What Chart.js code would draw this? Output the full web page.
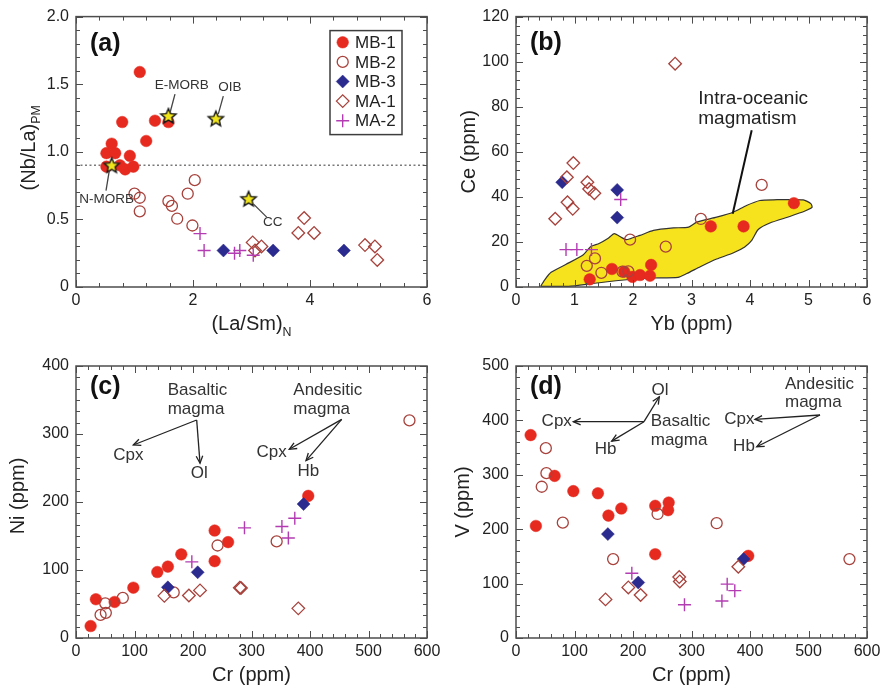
<!DOCTYPE html>
<html>
<head>
<meta charset="utf-8">
<script src="https://cdn.jsdelivr.net/npm/chart.js@4.4.1/dist/chart.umd.min.js"></script>
<style>
  html, body { margin: 0; padding: 0; background: #ffffff; }
  #wrap { position: relative; width: 885px; height: 687px; }
  #wrap canvas { position: absolute; left: 0; top: 0; }
</style>
</head>
<body>
<div id="wrap">
  <canvas id="panelA" width="885" height="687"></canvas>
  <canvas id="panelB" width="885" height="687"></canvas>
  <canvas id="panelC" width="885" height="687"></canvas>
  <canvas id="panelD" width="885" height="687"></canvas>
</div>
<script>
// ---------- sample groups ----------
const groups = ['MB-1', 'MB-2', 'MB-3', 'MA-1', 'MA-2'];

// (a) (La/Sm)N vs (Nb/La)PM
const mb1LaSm = [1.09, 0.79, 1.35, 1.58, 1.20, 0.61, 0.52, 0.67, 0.92, 0.52, 0.75, 0.84, 0.98];
const mb1NbLa = [1.59, 1.22, 1.23, 1.22, 1.08, 1.06, 0.99, 0.99, 0.97, 0.89, 0.90, 0.87, 0.89];
const mb2LaSm = [1.00, 1.09, 1.09, 1.58, 1.64, 1.73, 1.91, 2.03, 1.99];
const mb2NbLa = [0.69, 0.66, 0.56, 0.635, 0.60, 0.505, 0.69, 0.79, 0.455];
const mb3LaSm = [2.52, 3.37, 4.58];
const mb3NbLa = [0.27, 0.27, 0.27];
const ma1LaSm = [3.02, 3.17, 3.06, 3.80, 3.90, 4.07, 4.94, 5.11, 5.15];
const ma1NbLa = [0.33, 0.30, 0.27, 0.40, 0.51, 0.40, 0.31, 0.30, 0.20];
const ma2LaSm = [2.12, 2.19, 2.71, 2.80, 3.03];
const ma2NbLa = [0.395, 0.27, 0.25, 0.27, 0.235];
const refNames = ['N-MORB', 'E-MORB', 'OIB', 'CC'];
const refLaSm = [0.61, 1.58, 2.39, 2.95];
const refNbLa = [0.90, 1.265, 1.245, 0.652];
const nbLaLimit = 0.9;

// (b) Yb vs Ce
const mb1Yb = [1.26, 1.64, 1.85, 1.99, 2.12, 2.29, 2.31, 3.33, 3.89, 4.75];
const mb1Ce = [3.4, 8.0, 6.8, 4.5, 5.3, 5.0, 9.8, 26.9, 26.9, 37.2];
const mb2Yb = [1.21, 1.35, 1.46, 1.82, 1.92, 1.95, 2.56, 3.16, 4.20];
const mb2Ce = [9.4, 12.7, 6.3, 6.8, 6.9, 21.0, 17.9, 30.2, 45.3];
const mb3Yb = [0.79, 1.73, 1.73];
const mb3Ce = [46.5, 43.1, 30.8];
const ma1Yb = [0.98, 0.87, 1.22, 1.25, 1.34, 0.88, 0.97, 0.67, 2.72];
const ma1Ce = [55.0, 48.7, 46.5, 43.5, 41.6, 37.6, 34.7, 30.3, 99.1];
const ma2Yb = [0.855, 1.04, 1.29, 1.79];
const ma2Ce = [16.6, 16.6, 16.6, 38.8];
// outline of the intra-oceanic field (Yb, Ce)
const oceanicYb = [0.42, 0.50, 0.60, 0.85, 1.14, 1.28, 1.42, 1.57, 1.68, 1.81, 1.88, 1.96, 2.05, 2.12, 2.35, 2.69, 2.95,
                   3.09, 3.43, 3.71, 3.94, 4.17, 4.40, 4.91, 5.04, 5.06, 4.94, 4.68, 4.34, 4.14, 4.03, 3.91, 3.71,
                   3.43, 3.15, 2.92, 2.77, 2.30, 1.80, 1.30, 0.90, 0.42];
const oceanicCe = [0.3, 3.5, 6.5, 10.0, 14.1, 18.0, 19.3, 21.5, 23.7, 21.9, 21.0, 21.5, 22.3, 22.9, 25.1, 26.2, 26.6,
                   28.8, 31.0, 33.2, 36.2, 38.4, 38.7, 38.7, 37.0, 35.3, 33.7, 31.3, 28.4, 25.5, 20.7, 17.8, 15.1,
                   12.4, 9.0, 6.0, 4.3, 4.0, 3.0, 1.5, 0.3, 0.3];

// (c) Cr vs Ni
const mb1CrC = [25, 34, 66, 98, 139, 157, 180, 237, 237, 260, 397];
const mb1Ni  = [17.6, 57, 53, 74, 97, 105, 123, 158, 113, 141, 209];
const mb2CrC = [42, 51, 50, 80, 167, 242, 343, 570];
const mb2Ni  = [34, 37, 51, 59, 67, 136, 142, 320];
const mb3CrC = [157, 208, 389];
const mb3Ni  = [74.5, 96.6, 197];
const ma1CrC = [151, 193, 212, 280, 282, 380];
const ma1Ni  = [62, 62.5, 70, 74, 73.5, 43.6];
const ma2CrC = [198, 288, 352, 363, 374];
const ma2Ni  = [112, 162, 164, 147, 176];

// (d) Cr vs V
const mb1CrD = [25, 34, 66, 98, 140, 158, 180, 238, 261, 260, 238, 397];
const mb1V   = [373, 206, 298, 270, 266, 225, 238, 243, 249, 235, 154, 151];
const mb2CrD = [51, 52, 44, 80, 166, 242, 343, 570];
const mb2V   = [349, 303, 278, 212, 145, 228, 211, 145];
const mb3CrD = [157, 209, 389];
const mb3V   = [191, 102, 145];
const ma1CrD = [153, 192, 213, 279, 280, 380];
const ma1V   = [71, 93, 79, 112, 104, 131];
const ma2CrD = [198, 288, 352, 361, 374];
const ma2V   = [119, 61, 68, 99, 87];

// ---------- styling ----------
const FONT = "'Liberation Sans', Arial, Helvetica, sans-serif";
Chart.defaults.font.family = FONT;
Chart.defaults.font.size = 16;
Chart.defaults.color = '#222';

const RED = '#e62a1f', BROWN = '#a8423c', NAVY = '#2b2a8e', MAGENTA = '#b33cb3';
const markerStyle = {
  'MB-1': { pointStyle: 'circle',  pointRadius: 5.8, backgroundColor: RED, borderColor: RED, borderWidth: 0.5, order: 5 },
  'MB-2': { pointStyle: 'circle',  pointRadius: 5.5, backgroundColor: 'rgba(255,255,255,0)', borderColor: BROWN, borderWidth: 1.3, order: 4 },
  'MB-3': { pointStyle: 'rectRot', pointRadius: 6.5, backgroundColor: NAVY, borderColor: NAVY, borderWidth: 0.5, order: 3 },
  'MA-1': { pointStyle: 'rectRot', pointRadius: 6.3, backgroundColor: 'rgba(255,255,255,0)', borderColor: BROWN, borderWidth: 1.3, order: 2 },
  'MA-2': { pointStyle: 'cross',   pointRadius: 6.5, backgroundColor: MAGENTA, borderColor: MAGENTA, borderWidth: 1.4, order: 1 }
};

function toPoints(xs, ys) { return xs.map((x, i) => ({ x: x, y: ys[i] })); }

function groupSets(pairs) {
  return groups.map((g, i) => Object.assign({ label: g, data: toPoints(pairs[i][0], pairs[i][1]) }, markerStyle[g]));
}

function starImage(R, r) {
  const s = Math.ceil(2 * R + 4);
  const c = document.createElement('canvas');
  c.width = s; c.height = s;
  const g = c.getContext('2d');
  g.translate(s / 2, s / 2 + 0.5);
  g.beginPath();
  for (let i = 0; i < 10; i++) {
    const rad = i % 2 ? r : R;
    const a = -Math.PI / 2 + i * Math.PI / 5;
    g.lineTo(rad * Math.cos(a), rad * Math.sin(a));
  }
  g.closePath();
  g.fillStyle = '#f1e51c';
  g.fill();
  g.lineWidth = 1.4;
  g.strokeStyle = '#1a1a1a';
  g.lineJoin = 'miter';
  g.stroke();
  return c;
}

// ---------- decorations: frame, inward ticks, titles, notes ----------
const decor = {};

function drawRich(ctx, parts, x, y, size, rot) {
  ctx.save();
  ctx.translate(x, y);
  if (rot) ctx.rotate(rot);
  const sub = size * 0.62;
  let w = 0;
  const ws = parts.map(p => { ctx.font = (p[1] ? sub : size) + 'px ' + FONT; const m = ctx.measureText(p[0]).width; w += m; return m; });
  let cx = -w / 2;
  ctx.textAlign = 'left';
  ctx.textBaseline = 'alphabetic';
  parts.forEach((p, i) => {
    ctx.font = (p[1] ? sub : size) + 'px ' + FONT;
    ctx.fillText(p[0], cx, size * 0.36 + (p[1] ? size * 0.28 : 0));
    cx += ws[i];
  });
  ctx.restore();
}

function arrowHead(ctx, x0, y0, x1, y1) {
  const ang = Math.atan2(y1 - y0, x1 - x0);
  const L = 8, spread = 0.42;
  ctx.beginPath();
  ctx.moveTo(x1 - L * Math.cos(ang - spread), y1 - L * Math.sin(ang - spread));
  ctx.lineTo(x1, y1);
  ctx.lineTo(x1 - L * Math.cos(ang + spread), y1 - L * Math.sin(ang + spread));
  ctx.stroke();
}

function drawMarker(ctx, st, x, y) {
  ctx.save();
  ctx.fillStyle = st.backgroundColor;
  ctx.strokeStyle = st.borderColor;
  ctx.lineWidth = st.borderWidth;
  Chart.helpers.drawPoint(ctx, { pointStyle: st.pointStyle, rotation: 0, radius: st.pointRadius, borderWidth: st.borderWidth }, x, y);
  ctx.restore();
}

const decorPlugin = {
  id: 'decor',
  afterDatasetsDraw(chart) {
    const o = decor[chart.canvas.id];
    if (!o) return;
    const ctx = chart.ctx, a = chart.chartArea, sx = chart.scales.x, sy = chart.scales.y;
    ctx.save();

    // inward tick marks on all four sides
    ctx.strokeStyle = '#4d4d4d';
    ctx.lineWidth = 1;
    const nx = Math.round((sx.max - sx.min) / o.xMajor * o.xSub);
    for (let i = 0; i <= nx; i++) {
      const p = Math.round(sx.getPixelForValue(sx.min + i * o.xMajor / o.xSub)) + 0.5;
      const len = i % o.xSub === 0 ? 7 : 4;
      ctx.beginPath();
      ctx.moveTo(p, a.bottom); ctx.lineTo(p, a.bottom - len);
      ctx.moveTo(p, a.top); ctx.lineTo(p, a.top + len);
      ctx.stroke();
    }
    const ny = Math.round((sy.max - sy.min) / o.yMajor * o.ySub);
    for (let i = 0; i <= ny; i++) {
      const p = Math.round(sy.getPixelForValue(sy.min + i * o.yMajor / o.ySub)) + 0.5;
      const len = i % o.ySub === 0 ? 7 : 4;
      ctx.beginPath();
      ctx.moveTo(a.left, p); ctx.lineTo(a.left + len, p);
      ctx.moveTo(a.right, p); ctx.lineTo(a.right - len, p);
      ctx.stroke();
    }
    // frame
    ctx.lineWidth = 1.5;
    ctx.strokeRect(a.left, a.top, a.right - a.left, a.bottom - a.top);

    // panel tag
    ctx.fillStyle = '#111';
    ctx.font = 'bold 25px ' + FONT;
    ctx.textAlign = 'left';
    ctx.textBaseline = 'middle';
    ctx.fillText(o.tag, a.left + 14, a.top + o.tagDy);

    // axis titles
    ctx.fillStyle = '#222';
    drawRich(ctx, o.xTitle, (a.left + a.right) / 2, a.bottom + 36, 20, 0);
    drawRich(ctx, o.yTitle, a.left - o.yTitleGap, (a.top + a.bottom) / 2 + o.yTitleShift, 20, -Math.PI / 2);

    // leader lines and arrows
    (o.lines || []).forEach(l => {
      ctx.strokeStyle = l.color; ctx.lineWidth = l.width;
      const x0 = sx.getPixelForValue(l.p[0]), y0 = sy.getPixelForValue(l.p[1]);
      const x1 = sx.getPixelForValue(l.p[2]), y1 = sy.getPixelForValue(l.p[3]);
      ctx.beginPath(); ctx.moveTo(x0, y0); ctx.lineTo(x1, y1); ctx.stroke();
      if (l.arrow) arrowHead(ctx, x0, y0, x1, y1);
    });
    // note texts
    (o.texts || []).forEach(t => {
      ctx.fillStyle = t.color || '#333';
      ctx.font = t.size + 'px ' + FONT;
      ctx.textAlign = t.align || 'center';
      ctx.textBaseline = 'middle';
      ctx.fillText(t.t, sx.getPixelForValue(t.x), sy.getPixelForValue(t.y));
    });

    // legend box
    if (o.legend) {
      const bx = a.right - 97, by = a.top + 14, bw = 72, bh = 104;
      ctx.fillStyle = '#ffffff';
      ctx.fillRect(bx, by, bw, bh);
      ctx.strokeStyle = '#3d3d3d';
      ctx.lineWidth = 1.5;
      ctx.strokeRect(bx, by, bw, bh);
      groups.forEach((g, i) => {
        const cy = by + 11.7 + i * 19.6;
        drawMarker(ctx, markerStyle[g], bx + 12.7, cy);
        ctx.fillStyle = '#222';
        ctx.font = '17px ' + FONT;
        ctx.textAlign = 'left';
        ctx.textBaseline = 'middle';
        ctx.fillText(g, bx + 25, cy + 1);
      });
    }
    ctx.restore();
  }
};

// ---------- chart factory ----------
function makePanel(id, col, row, datasets, axes) {
  const box = { left: col ? 516 : 76, right: col ? 867 : 427, top: row ? 366 : 15, bottom: row ? 638 : 287 };
  const xTicks = { stepSize: axes.x[2], autoSkip: false, maxRotation: 0, padding: 4, font: { size: 16 }, color: '#222' };
  const yTicks = { stepSize: axes.y[2], autoSkip: false, padding: 7, font: { size: 16 }, color: '#222' };
  if (axes.yLabel) yTicks.callback = axes.yLabel;
  return new Chart(document.getElementById(id), {
    type: 'scatter',
    data: { datasets: datasets },
    options: {
      responsive: false,
      animation: false,
      events: [],
      layout: { padding: { left: col ? 440 : 0, right: 885 - box.right, top: box.top, bottom: 687 - box.bottom - 40 } },
      plugins: { legend: { display: false }, tooltip: { enabled: false } },
      scales: {
        x: { type: 'linear', min: axes.x[0], max: axes.x[1], grid: { display: false, drawTicks: false }, border: { display: false },
             ticks: xTicks, afterFit: s => { s.height = 40; } },
        y: { type: 'linear', min: axes.y[0], max: axes.y[1], grid: { display: false, drawTicks: false }, border: { display: false },
             ticks: yTicks, afterFit: s => { s.width = 76; } }
      }
    },
    plugins: [decorPlugin]
  });
}

// (a)
decor.panelA = {
  xMajor: 2, xSub: 5, yMajor: 0.5, ySub: 5, tag: '(a)', tagDy: 28,
  xTitle: [['(La/Sm)', 0], ['N', 1]], yTitle: [['(Nb/La)', 0], ['PM', 1]], yTitleGap: 48.5, yTitleShift: -4,
  legend: true,
  lines: [
    { p: [1.692, 1.426, 1.607, 1.289], color: '#444', width: 1.3 },
    { p: [2.518, 1.412, 2.432, 1.279], color: '#444', width: 1.3 },
    { p: [0.569, 0.860, 0.513, 0.713], color: '#444', width: 1.3 },
    { p: [3.031, 0.615, 3.260, 0.517], color: '#444', width: 1.3 }
  ],
  texts: [
    { t: refNames[1], x: 1.807, y: 1.493, size: 13.5 },
    { t: refNames[2], x: 2.632, y: 1.478, size: 13.5 },
    { t: refNames[0], x: 0.525, y: 0.652, size: 13.5 },
    { t: refNames[3], x: 3.362, y: 0.480, size: 13.5 }
  ]
};
makePanel('panelA', 0, 0, [
  { type: 'line', label: 'limit', data: [{ x: 0, y: nbLaLimit }, { x: 6, y: nbLaLimit }], borderColor: '#7a7a7a', borderWidth: 1.5,
    borderDash: [2, 2.5], pointRadius: 0, fill: false, order: 10 },
  { label: 'reference', data: toPoints(refLaSm, refNbLa), pointStyle: starImage(8, 3.6), pointRadius: 8, order: 0 }
].concat(groupSets([[mb1LaSm, mb1NbLa], [mb2LaSm, mb2NbLa], [mb3LaSm, mb3NbLa], [ma1LaSm, ma1NbLa], [ma2LaSm, ma2NbLa]])),
{ x: [0, 6, 2], y: [0, 2, 0.5], yLabel: v => (v === 0 ? '0' : v.toFixed(1)) });

// (b)
decor.panelB = {
  xMajor: 1, xSub: 5, yMajor: 20, ySub: 5, tag: '(b)', tagDy: 27,
  xTitle: [['Yb (ppm)', 0]], yTitle: [['Ce (ppm)', 0]], yTitleGap: 48, yTitleShift: 0,
  lines: [{ p: [4.029, 69.6, 3.704, 32.5], color: '#111', width: 2 }],
  texts: [
    { t: 'Intra-oceanic', x: 3.116, y: 83.5, size: 19, align: 'left', color: '#222' },
    { t: 'magmatism', x: 3.116, y: 74.6, size: 19, align: 'left', color: '#222' }
  ]
};
makePanel('panelB', 1, 0, [
  { type: 'line', label: 'Intra-oceanic magmatism', data: toPoints(oceanicYb, oceanicCe), backgroundColor: '#f7e31d',
    borderColor: '#333', borderWidth: 1.2, pointRadius: 0, tension: 0.2, fill: 'shape', order: 10 }
].concat(groupSets([[mb1Yb, mb1Ce], [mb2Yb, mb2Ce], [mb3Yb, mb3Ce], [ma1Yb, ma1Ce], [ma2Yb, ma2Ce]])),
{ x: [0, 6, 1], y: [0, 120, 20] });

// (c)
decor.panelC = {
  xMajor: 100, xSub: 5, yMajor: 100, ySub: 6, tag: '(c)', tagDy: 21,
  xTitle: [['Cr (ppm)', 0]], yTitle: [['Ni (ppm)', 0]], yTitleGap: 59, yTitleShift: -6,
  lines: [
    { p: [206.3, 320.6, 98, 283.8], color: '#222', width: 1.3, arrow: true },
    { p: [206.3, 320.6, 212, 257], color: '#222', width: 1.3, arrow: true },
    { p: [454.2, 321.6, 364.6, 277.5], color: '#222', width: 1.3, arrow: true },
    { p: [454.2, 321.6, 393.2, 260.8], color: '#222', width: 1.3, arrow: true }
  ],
  texts: [
    { t: 'Basaltic', x: 156.7, y: 363.7, size: 17, align: 'left' },
    { t: 'magma', x: 156.7, y: 336.8, size: 17, align: 'left' },
    { t: 'Cpx', x: 89.4, y: 269, size: 17 },
    { t: 'Ol', x: 210.8, y: 242.3, size: 17 },
    { t: 'Andesitic', x: 371.5, y: 363.7, size: 17, align: 'left' },
    { t: 'magma', x: 371.5, y: 336.8, size: 17, align: 'left' },
    { t: 'Cpx', x: 334.5, y: 272.5, size: 17 },
    { t: 'Hb', x: 397, y: 245.6, size: 17 }
  ]
};
makePanel('panelC', 0, 1,
  groupSets([[mb1CrC, mb1Ni], [mb2CrC, mb2Ni], [mb3CrC, mb3Ni], [ma1CrC, ma1Ni], [ma2CrC, ma2Ni]]),
  { x: [0, 600, 100], y: [0, 400, 100] });

// (d)
decor.panelD = {
  xMajor: 100, xSub: 5, yMajor: 100, ySub: 5, tag: '(d)', tagDy: 21,
  xTitle: [['Cr (ppm)', 0]], yTitle: [['V (ppm)', 0]], yTitleGap: 54, yTitleShift: 0,
  lines: [
    { p: [218.8, 397.6, 98, 397.6], color: '#222', width: 1.3, arrow: true },
    { p: [218.8, 397.6, 245, 443.5], color: '#222', width: 1.3, arrow: true },
    { p: [218.8, 397.6, 163.6, 362], color: '#222', width: 1.3, arrow: true },
    { p: [519.7, 409.9, 408.5, 402], color: '#222', width: 1.3, arrow: true },
    { p: [519.7, 409.9, 411.5, 351.6], color: '#222', width: 1.3, arrow: true }
  ],
  texts: [
    { t: 'Ol', x: 246.2, y: 455.8, size: 17 },
    { t: 'Cpx', x: 69.6, y: 397.6, size: 17 },
    { t: 'Hb', x: 153.3, y: 346.8, size: 17 },
    { t: 'Basaltic', x: 230.3, y: 397.6, size: 17, align: 'left' },
    { t: 'magma', x: 230.3, y: 363.9, size: 17, align: 'left' },
    { t: 'Andesitic', x: 459.8, y: 466.3, size: 17, align: 'left' },
    { t: 'magma', x: 459.8, y: 433.2, size: 17, align: 'left' },
    { t: 'Cpx', x: 381.7, y: 402, size: 17 },
    { t: 'Hb', x: 389.7, y: 351.6, size: 17 }
  ]
};
makePanel('panelD', 1, 1,
  groupSets([[mb1CrD, mb1V], [mb2CrD, mb2V], [mb3CrD, mb3V], [ma1CrD, ma1V], [ma2CrD, ma2V]]),
  { x: [0, 600, 100], y: [0, 500, 100] });
</script>
</body>
</html>
